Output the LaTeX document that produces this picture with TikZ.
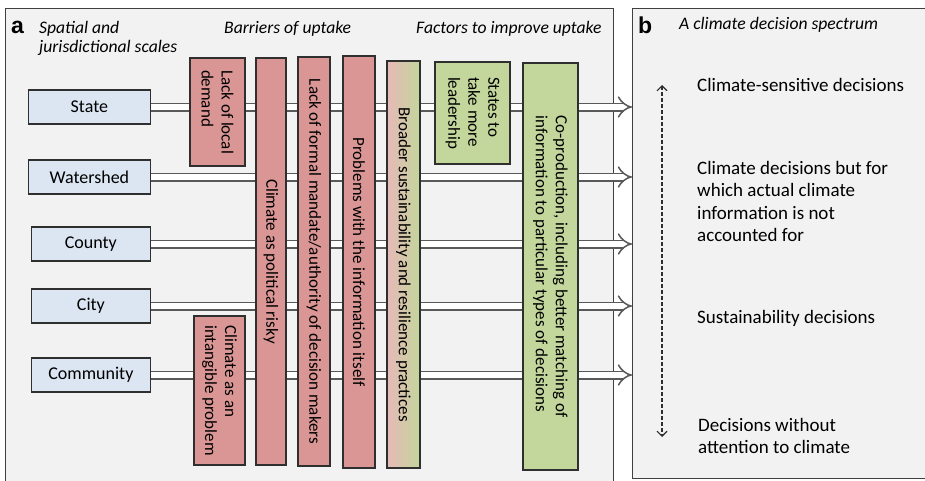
\documentclass[tikz,border=0pt]{standalone}
\usepackage{fontspec}
\setmainfont{Carlito}
\newfontfamily\arialfont{Liberation Sans}
\usetikzlibrary{arrows.meta}
\definecolor{panelfill}{HTML}{F2F2F2}
\definecolor{panelline}{HTML}{404040}
\definecolor{bluefill}{HTML}{DCE6F2}
\definecolor{redfill}{HTML}{D99694}
\definecolor{greenfill}{HTML}{C3D69B}
\definecolor{pinkfill}{HTML}{E6B9B8}
\definecolor{boxline}{HTML}{2F2F2F}
\definecolor{arrowline}{HTML}{595959}
\begin{document}
\begin{tikzpicture}[x=1pt,y=-1pt,
 panel/.style={draw=panelline, fill=panelfill, line width=1pt, inner sep=0pt, anchor=north west},
 scalebox/.style={draw=boxline, fill=bluefill, line width=1.2pt, minimum height=34pt, anchor=east, font=\fontsize{18}{20}\selectfont, inner sep=0pt},
 bar/.style={draw=boxline, line width=1.2pt, rotate=-90, inner sep=3pt, align=left, font=\fontsize{17}{20}\selectfont},
 redbar/.style={bar, fill=redfill},
 greenbar/.style={bar, fill=greenfill},
 flow/.style={draw=arrowline, double=white, double distance=6pt, line width=1.5pt, -{Implies[length=9pt,width=20pt]}},
 headtext/.style={font=\fontsize{17.6}{19}\selectfont\itshape, inner sep=0pt, anchor=base west, align=left},
 plaintext/.style={font=\fontsize{19}{22.5}\selectfont, inner sep=0pt, anchor=base west, align=left},
 letter/.style={font=\arialfont\bfseries\fontsize{23}{23}\selectfont, inner sep=0pt, anchor=base west},
 spectrum/.style={draw=boxline, line width=1.1pt, dash pattern=on 4pt off 2pt, {Straight Barb[length=5pt,width=10pt]}-{Straight Barb[length=5pt,width=10pt]}},
]
\useasboundingbox (0,0) rectangle (925,480);
\clip (0,0) rectangle (925,480);
% panels
\node[panel, minimum width=608pt, minimum height=474pt] (pa) at (5,8) {};
\node[panel, minimum width=305pt, minimum height=470pt] (pb) at (632,8) {};
% panel letters and headers
\node[letter] (la) at (11,33) {a};
\node[letter] (lb) at (638,33) {b};
\node[headtext] (h1) at (39,52) {Spatial and\\jurisdictional scales};
\node[headtext] (h2) at (224,33) {Barriers of uptake};
\node[headtext] (h3) at (416,33) {Factors to improve uptake};
\node[headtext] (h4) at (679,29) {A climate decision spectrum};
% scales
\node[scalebox, minimum width=122pt] (state) at (151,107) {State};
\node[scalebox, minimum width=122pt] (watershed) at (151,177) {Watershed};
\node[scalebox, minimum width=119pt] (county) at (151,244) {County};
\node[scalebox, minimum width=119pt] (city) at (151,306) {City};
\node[scalebox, minimum width=119pt] (community) at (151,375) {Community};
% flows
\foreach \n in {state,watershed,county,city,community}
  \draw[flow] (\n.east) -- (\n.east -| pb.west);
% barriers
\node[redbar, minimum width=108pt, minimum height=55pt] (demand) at (217.5,112) {Lack of local\\demand};
\node[redbar, minimum width=149pt, minimum height=51pt] (intangible) at (219.5,390.5) {Climate as an\\intangible problem};
\node[redbar, minimum width=407pt, minimum height=30pt] (risky) at (271,261.5) {Climate as political risky};
\node[redbar, minimum width=409pt, minimum height=32pt] (mandate) at (314,261.5) {Lack of formal mandate/authority of decision makers};
\node[redbar, minimum width=412pt, minimum height=32pt] (problems) at (359,262) {Problems with the information itself};
\node[bar, left color=pinkfill, right color=greenfill, minimum width=407pt, minimum height=33pt] (broader) at (403.5,264.5) {Broader sustainability and resilience practices};
% factors
\node[greenbar, minimum width=102pt, minimum height=75pt] (leader) at (472.5,113) {States to\\take more\\leadership};
\node[greenbar, minimum width=407pt, minimum height=55pt] (coprod) at (550.5,266.5) {Co-production, including better matching of\\information to particular types of decisions};
% spectrum
\coordinate (spTop) at (662,85);
\coordinate (spBot) at (662,437);
\draw[spectrum] (spTop) -- (spBot);
\node[plaintext] (d1) at (697,91) {Climate-sensitive decisions};
\node[plaintext] (d2) at (697,241.5) {Climate decisions but for\\which actual climate\\information is not\\accounted for};
\node[plaintext] (d3) at (697,323) {Sustainability decisions};
\node[plaintext] (d4) at (698,453.5) {Decisions without\\attention to climate};
\end{tikzpicture}
\end{document}
